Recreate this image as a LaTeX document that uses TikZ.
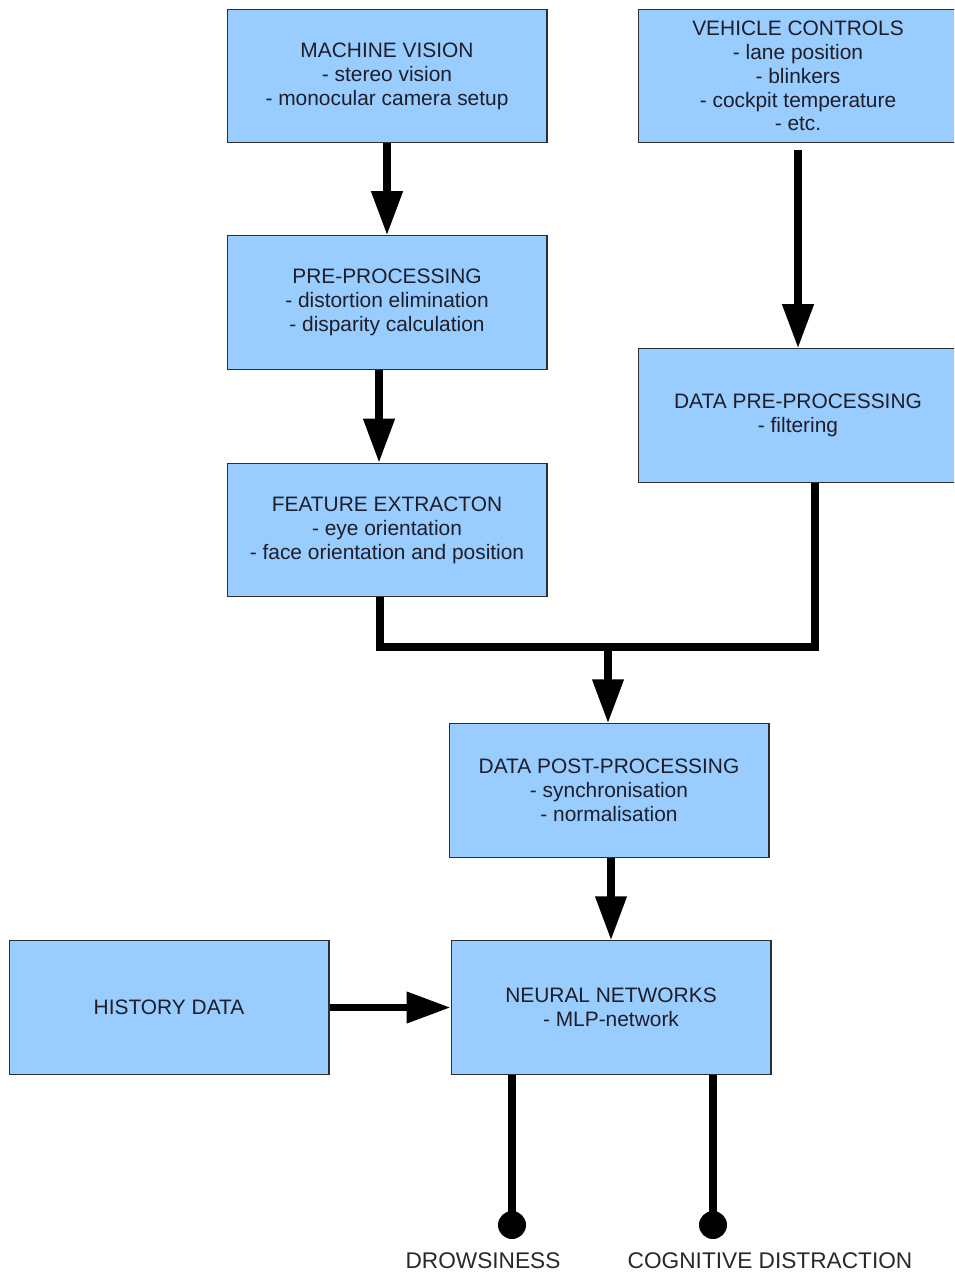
\documentclass[tikz,border=0pt]{standalone}
\usepackage{fontspec}
\setmainfont{Liberation Sans}
\usetikzlibrary{arrows.meta,calc}
\definecolor{boxfill}{RGB}{153,204,255}
\definecolor{boxline}{RGB}{45,45,50}
\definecolor{txt}{RGB}{30,30,42}
\definecolor{labtxt}{RGB}{40,40,40}
\begin{document}
\begin{tikzpicture}[x=0.02cm,y=-0.02cm,
  box/.style={draw=boxline,fill=boxfill,line width=0.6pt,minimum width=6.4cm,minimum height=2.67cm,inner sep=0pt,align=center,text=txt,font=\fontsize{11.9}{13.6}\selectfont},
  conn/.style={line width=4.2pt,line join=miter,black},
  arr/.style={conn,-{Triangle[length=0.88cm,width=0.6cm]}},
  dot/.style={circle,fill=black,minimum size=0.56cm,inner sep=0pt},
  lab/.style={text=labtxt,inner sep=0pt,font=\fontsize{12.9}{14}\selectfont}]
\clip (0,0) rectangle (954,1273);
\fill[white] (0,0) rectangle (954,1273);
\node[box] (mv) at (387,76) {MACHINE VISION\\- stereo vision\\- monocular camera setup};
\node[box] (vc) at (798,76) {VEHICLE CONTROLS\\- lane position\\- blinkers\\- cockpit temperature\\- etc.};
\node[box] (pp) at (387,302.5) {PRE-PROCESSING\\- distortion elimination\\- disparity calculation};
\node[box] (dpp) at (798,415.5) {DATA PRE-PROCESSING\\- filtering};
\node[box] (fe) at (387,530) {FEATURE EXTRACTON\\- eye orientation\\- face orientation and position};
\node[box] (dpost) at (609,790.5) {DATA POST-PROCESSING\\- synchronisation\\- normalisation};
\node[box] (hd) at (169,1007.5) {HISTORY DATA};
\node[box] (nn) at (611,1007.5) {NEURAL NETWORKS\\- MLP-network};
\coordinate (j) at (608,647);
\node[dot] (d1) at (512,1225) {};
\node[dot] (d2) at (713,1225) {};
\node[lab] (l1) at (483,1261) {DROWSINESS};
\node[lab] (l2) at (770,1261) {COGNITIVE DISTRACTION};
\draw[arr] (mv.south) -- (pp.north);
\draw[arr] ([yshift=-0.14cm]vc.south) -- (dpp.north);
\draw[arr] ([xshift=-0.16cm]pp.south) -- ([xshift=-0.16cm]fe.north);
\draw[conn] ([xshift=-0.14cm]fe.south) |- (j) -| ([xshift=0.34cm]dpp.south);
\draw[arr] (j) -- (j |- dpost.north);
\draw[arr] (dpost.south -| nn.north) -- (nn.north);
\draw[arr] (hd.east) -- (nn.west);
\draw[conn] (nn.south -| d1) -- (d1.center);
\draw[conn] (nn.south -| d2) -- (d2.center);
\end{tikzpicture}
\end{document}
